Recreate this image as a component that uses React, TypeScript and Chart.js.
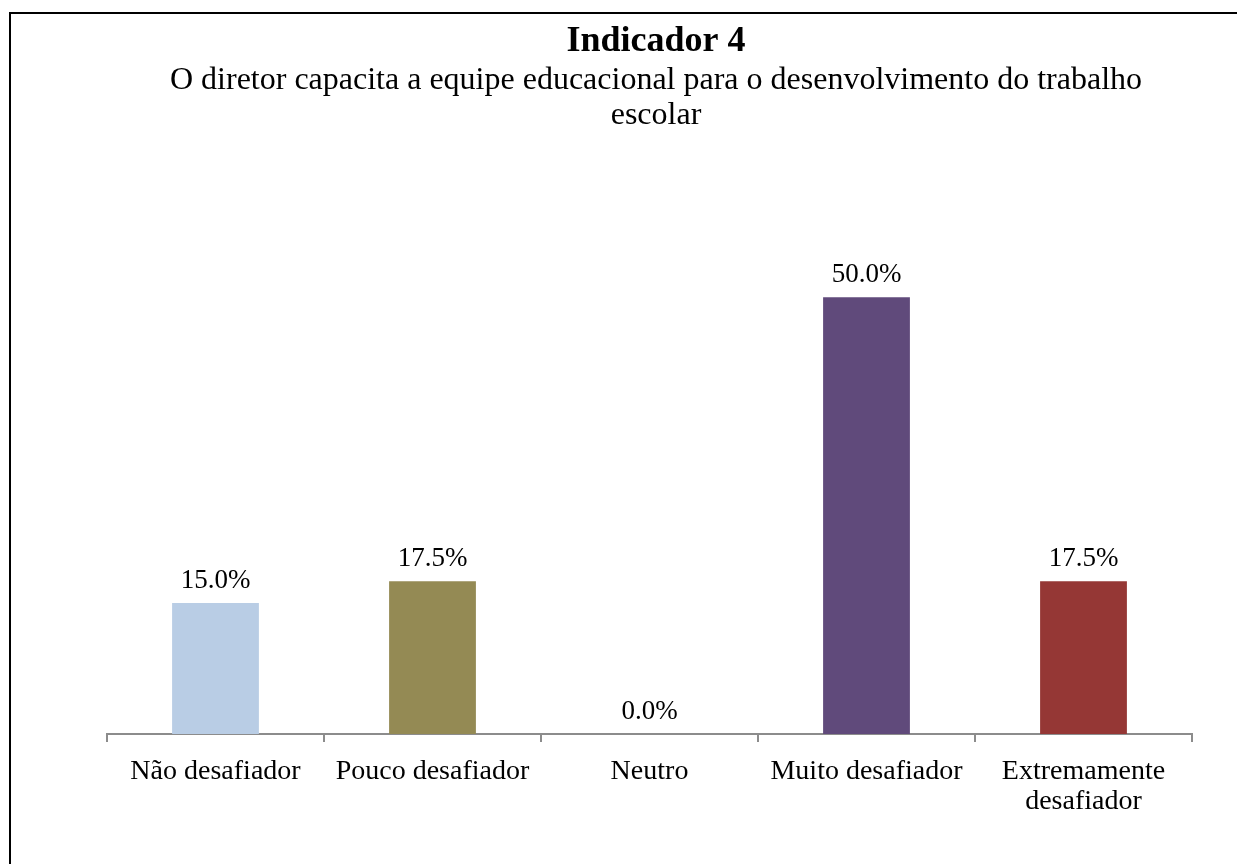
import React, { useEffect, useRef } from "react";
import { Chart, registerables } from "chart.js";

Chart.register(...registerables);

const TITLE = "Indicador 4";
const SUBTITLE_LINES = [
  "O diretor capacita a equipe educacional para o desenvolvimento do trabalho",
  "escolar",
];
const CATEGORIES: (string | string[])[] = [
  "Não desafiador",
  "Pouco desafiador",
  "Neutro",
  "Muito desafiador",
  ["Extremamente", "desafiador"],
];
const VALUES = [15.0, 17.5, 0.0, 50.0, 17.5];
const COLORS = ["#B9CDE5", "#948A54", "#A5A5A5", "#604A7B", "#953735"];

const SERIF = "'Liberation Serif', 'Times New Roman', serif";

const framePlugin = {
  id: "frame",
  beforeDraw(chart: any) {
    const ctx = chart.ctx;
    ctx.save();
    ctx.fillStyle = "#ffffff";
    ctx.fillRect(0, 0, chart.width, chart.height);
    ctx.strokeStyle = "#000000";
    ctx.lineWidth = 2;
    ctx.strokeRect(10, 13, chart.width + 100, chart.height + 100);
    ctx.restore();
  },
};

const titlePlugin = {
  id: "customTitle",
  afterDraw(chart: any) {
    const ctx = chart.ctx;
    ctx.save();
    ctx.fillStyle = "#000000";
    ctx.textAlign = "center";
    ctx.textBaseline = "alphabetic";
    ctx.font = `bold 36px ${SERIF}`;
    ctx.fillText(TITLE, 656, 51);
    ctx.font = `32px ${SERIF}`;
    SUBTITLE_LINES.forEach((line, i) => {
      ctx.fillText(line, 656, 89 + i * 35);
    });
    ctx.restore();
  },
};

const valueLabelPlugin = {
  id: "valueLabels",
  afterDatasetsDraw(chart: any) {
    const ctx = chart.ctx;
    const meta = chart.getDatasetMeta(0);
    const data = chart.data.datasets[0].data as number[];
    ctx.save();
    ctx.fillStyle = "#000000";
    ctx.textAlign = "center";
    ctx.textBaseline = "alphabetic";
    ctx.font = `27px ${SERIF}`;
    meta.data.forEach((bar: any, i: number) => {
      ctx.fillText(`${data[i].toFixed(1)}%`, bar.x, bar.y - 15);
    });
    ctx.restore();
  },
};

export default function App() {
  const canvasRef = useRef<HTMLCanvasElement | null>(null);

  useEffect(() => {
    if (!canvasRef.current) return;
    const chart = new Chart(canvasRef.current, {
      type: "bar",
      data: {
        labels: CATEGORIES,
        datasets: [
          {
            data: VALUES,
            backgroundColor: COLORS,
            borderWidth: 0,
            barPercentage: 0.4,
            categoryPercentage: 1.0,
          },
        ],
      },
      options: {
        responsive: false,
        animation: false,
        layout: { padding: { left: 107, right: 45, top: 210, bottom: 0 } },
        plugins: {
          legend: { display: false },
          title: { display: false },
          tooltip: { enabled: false },
        },
        scales: {
          y: {
            display: false,
            min: 0,
            max: 60,
          },
          x: {
            offset: true,
            afterFit: (scale: any) => {
              scale.height = 130;
            },
            grid: {
              offset: true,
              drawOnChartArea: false,
              drawTicks: true,
              tickLength: 8,
              color: "#8C8C8C",
              lineWidth: 2,
            },
            border: { display: true, color: "#8C8C8C", width: 2 },
            ticks: {
              color: "#000000",
              font: { family: SERIF, size: 28, lineHeight: 1.07 },
              padding: 15,
              maxRotation: 0,
              autoSkip: false,
            },
          },
        },
      },
      plugins: [framePlugin, titlePlugin, valueLabelPlugin],
    });
    return () => chart.destroy();
  }, []);

  return (
    <div style={{ position: "absolute", left: 0, top: 0, width: 1237, height: 864 }}>
      <canvas ref={canvasRef} width={1237} height={864} />
    </div>
  );
}
